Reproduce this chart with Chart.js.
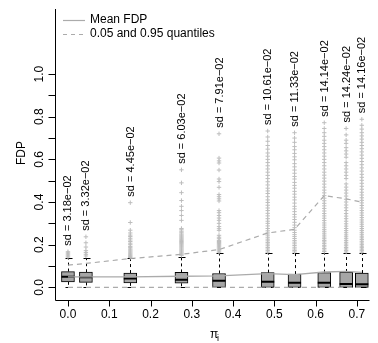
<!DOCTYPE html>
<html>
<head>
<meta charset="utf-8">
<script src="https://cdn.jsdelivr.net/npm/chart.js@4.4.0/dist/chart.umd.min.js"></script>
<style>
  html, body { margin: 0; padding: 0; background: #fff; }
  canvas { display: block; }
</style>
</head>
<body>
<canvas id="fdpChart" width="378" height="343"></canvas>
<script>
// pi_i value of each box
var piVals = [0, 0.0435, 0.151, 0.275, 0.366, 0.484, 0.549, 0.621, 0.674, 0.712];

// box statistics
var boxQ1   = [0.026, 0.023, 0.021, 0.019, 0, 0, 0, 0, 0, 0];
var boxMed  = [0.050, 0.047, 0.041, 0.036, 0.031, 0.026, 0.021, 0.022, 0.016, 0.014];
var boxQ3   = [0.074, 0.071, 0.067, 0.070, 0.065, 0.069, 0.062, 0.069, 0.072, 0.067];
var whiskLo = [0, 0, 0, 0, 0, 0, 0, 0, 0, 0];
var whiskHi = [0.136, 0.137, 0.137, 0.144, 0.160, 0.159, 0.160, 0.163, 0.160, 0.160];

// mean FDP and the 0.05 / 0.95 quantiles
var meanFdp = [0.049, 0.049, 0.049, 0.052, 0.054, 0.064, 0.060, 0.072, 0.075, 0.070];
var q05 = [0, 0, 0, 0, 0, 0, 0, 0, 0, 0];
var q95 = [0.104, 0.112, 0.135, 0.155, 0.177, 0.255, 0.272, 0.430, 0.415, 0.400];

var sdLabels = ['sd = 3.18e\u221202', 'sd = 3.32e\u221202', 'sd = 4.45e\u221202', 'sd = 6.03e\u221202',
  'sd = 7.91e\u221202', 'sd = 10.61e\u221202', 'sd = 11.33e\u221202', 'sd = 14.14e\u221202',
  'sd = 14.24e\u221202', 'sd = 14.16e\u221202'];

// outliers above the upper whisker, one list per box
var out1 = [0.142, 0.147, 0.152, 0.157, 0.162, 0.167];
var out2 = [0.147, 0.155, 0.163, 0.172, 0.189, 0.209, 0.237];
var out3 = [0.14, 0.145, 0.15, 0.155, 0.16, 0.165, 0.17, 0.175, 0.18, 0.186, 0.192, 0.2, 0.207,
  0.215, 0.222, 0.23, 0.238, 0.245, 0.255, 0.268, 0.304, 0.397];
var out4 = [0.15, 0.155, 0.16, 0.165, 0.17, 0.175, 0.18, 0.185, 0.19, 0.195, 0.2, 0.205, 0.21,
  0.215, 0.22, 0.225, 0.23, 0.235, 0.24, 0.245, 0.25, 0.256, 0.263, 0.27, 0.276, 0.314, 0.337,
  0.36, 0.38, 0.407, 0.444, 0.49, 0.551];
var out5 = [0.165, 0.17, 0.175, 0.18, 0.185, 0.19, 0.195, 0.2, 0.205, 0.21, 0.215, 0.22, 0.228,
  0.235, 0.244, 0.267, 0.275, 0.285, 0.3, 0.314, 0.325, 0.337, 0.35, 0.36, 0.405, 0.415, 0.425,
  0.435, 0.469, 0.496, 0.508, 0.55, 0.583, 0.593, 0.606, 0.72];
var out6 = [0.165, 0.172, 0.18, 0.187, 0.195, 0.203, 0.21, 0.218, 0.226, 0.235, 0.245, 0.255,
  0.265, 0.276, 0.288, 0.3, 0.31, 0.322, 0.335, 0.347, 0.36, 0.372, 0.385, 0.398, 0.41, 0.425,
  0.44, 0.452, 0.465, 0.48, 0.495, 0.51, 0.525, 0.54, 0.555, 0.57, 0.585, 0.6, 0.615, 0.63,
  0.648, 0.665, 0.685, 0.705, 0.733];
var out7 = [0.166, 0.173, 0.18, 0.188, 0.196, 0.204, 0.212, 0.22, 0.229, 0.238, 0.247, 0.257,
  0.268, 0.28, 0.292, 0.305, 0.318, 0.33, 0.342, 0.355, 0.368, 0.38, 0.395, 0.41, 0.423, 0.437,
  0.45, 0.465, 0.478, 0.492, 0.508, 0.52, 0.535, 0.55, 0.565, 0.58, 0.598, 0.612, 0.628, 0.645,
  0.66, 0.68, 0.7, 0.725];
var out8 = [0.168, 0.175, 0.182, 0.19, 0.197, 0.205, 0.213, 0.22, 0.228, 0.236, 0.245, 0.254,
  0.263, 0.272, 0.282, 0.292, 0.302, 0.313, 0.324, 0.335, 0.346, 0.358, 0.37, 0.382, 0.394,
  0.406, 0.418, 0.43, 0.443, 0.456, 0.47, 0.484, 0.498, 0.512, 0.526, 0.54, 0.555, 0.57, 0.585,
  0.6, 0.615, 0.63, 0.645, 0.66, 0.675, 0.69, 0.708, 0.725, 0.745, 0.772];
var out9 = [0.166, 0.173, 0.18, 0.187, 0.195, 0.203, 0.211, 0.219, 0.228, 0.237, 0.246, 0.256,
  0.266, 0.276, 0.287, 0.298, 0.31, 0.322, 0.334, 0.346, 0.36, 0.373, 0.386, 0.4, 0.413, 0.428,
  0.442, 0.456, 0.47, 0.485, 0.51, 0.525, 0.54, 0.555, 0.57, 0.585, 0.61, 0.625, 0.64, 0.655,
  0.675, 0.69, 0.715, 0.745];
var out10 = [0.165, 0.172, 0.179, 0.186, 0.193, 0.2, 0.208, 0.216, 0.224, 0.232, 0.24, 0.249,
  0.258, 0.267, 0.276, 0.286, 0.296, 0.306, 0.316, 0.327, 0.338, 0.349, 0.36, 0.372, 0.384,
  0.396, 0.408, 0.42, 0.433, 0.446, 0.46, 0.474, 0.488, 0.502, 0.516, 0.53, 0.545, 0.56, 0.575,
  0.59, 0.605, 0.62, 0.635, 0.65, 0.665, 0.68, 0.695, 0.71, 0.725, 0.742, 0.76, 0.788];
var outliers = [out1, out2, out3, out4, out5, out6, out7, out8, out9, out10];

// axis ticks
var xTicks = [0, 0.1, 0.2, 0.3, 0.4, 0.5, 0.6, 0.7];
var xTickLabels = ['0.0', '0.1', '0.2', '0.3', '0.4', '0.5', '0.6', '0.7'];
var yTicks = [0, 0.1, 0.2, 0.3, 0.4, 0.5, 0.6, 0.7, 0.8, 0.9, 1.0];
var yTickLabels = ['0.0', '', '0.2', '', '0.4', '', '0.6', '', '0.8', '', '1.0'];

var FONT = '"Liberation Sans", Arial, Helvetica, sans-serif';
var LINE_GREY = '#ababab';

function pts(ys) {
  return piVals.map(function (x, i) { return { x: x, y: ys[i] }; });
}

var outPts = [];
outliers.forEach(function (list, i) {
  list.forEach(function (v) { outPts.push({ x: piVals[i], y: v }); });
});

// whiskers, staples, axes, legend and sd labels
var boxExtras = {
  id: 'boxExtras',
  beforeDatasetsDraw: function (chart) {
    var ctx = chart.ctx, xs = chart.scales.x, ys = chart.scales.y;
    ctx.save();
    ctx.strokeStyle = '#000';
    ctx.lineWidth = 1;
    for (var i = 0; i < piVals.length; i++) {
      var px = Math.round(xs.getPixelForValue(piVals[i])) + 0.5;
      ctx.setLineDash([3, 3]);
      ctx.beginPath();
      ctx.moveTo(px, ys.getPixelForValue(boxQ3[i]));
      ctx.lineTo(px, ys.getPixelForValue(whiskHi[i]));
      if (boxQ1[i] > whiskLo[i]) {
        ctx.moveTo(px, ys.getPixelForValue(boxQ1[i]));
        ctx.lineTo(px, ys.getPixelForValue(whiskLo[i]));
      }
      ctx.stroke();
      ctx.setLineDash([]);
      ctx.beginPath();
      [whiskHi[i], whiskLo[i]].forEach(function (v) {
        var py = Math.round(ys.getPixelForValue(v)) + 0.5;
        ctx.moveTo(px - 3, py);
        ctx.lineTo(px + 4, py);
      });
      ctx.stroke();
    }
    ctx.restore();
  },
  afterDraw: function (chart) {
    var ctx = chart.ctx, xs = chart.scales.x, ys = chart.scales.y, area = chart.chartArea;
    var left = Math.round(area.left) + 0.5, bottom = Math.round(area.bottom) + 0.5;
    ctx.save();
    ctx.strokeStyle = '#000';
    ctx.lineWidth = 1;
    ctx.beginPath();
    ctx.moveTo(left, Math.round(area.top));
    ctx.lineTo(left, bottom);
    ctx.lineTo(area.right, bottom);
    ctx.stroke();

    ctx.fillStyle = '#000';
    ctx.font = '12px ' + FONT;

    // y axis
    ctx.beginPath();
    yTicks.forEach(function (v) {
      var py = Math.round(ys.getPixelForValue(v)) + 0.5;
      ctx.moveTo(left - 7, py);
      ctx.lineTo(left, py);
    });
    ctx.stroke();
    ctx.textAlign = 'center';
    ctx.textBaseline = 'middle';
    yTicks.forEach(function (v, i) {
      if (!yTickLabels[i]) return;
      ctx.save();
      ctx.translate(40, ys.getPixelForValue(v));
      ctx.rotate(-Math.PI / 2);
      ctx.fillText(yTickLabels[i], 0, 0);
      ctx.restore();
    });

    // x axis
    ctx.beginPath();
    xTicks.forEach(function (v) {
      var px = Math.round(xs.getPixelForValue(v)) + 0.5;
      ctx.moveTo(px, bottom);
      ctx.lineTo(px, bottom + 6);
    });
    ctx.stroke();
    xTicks.forEach(function (v, i) {
      ctx.fillText(xTickLabels[i], xs.getPixelForValue(v), 315);
    });

    // axis titles
    ctx.save();
    ctx.translate(22, 153);
    ctx.rotate(-Math.PI / 2);
    ctx.fillText('FDP', 0, 0);
    ctx.restore();
    ctx.textAlign = 'left';
    ctx.fillText('\u03c0', 210, 335);
    ctx.font = '9px ' + FONT;
    ctx.fillText('i', 217, 339);

    // sd labels above each column
    ctx.font = '11px ' + FONT;
    ctx.textAlign = 'left';
    ctx.textBaseline = 'middle';
    for (var i = 0; i < piVals.length; i++) {
      var top = Math.max.apply(null, outliers[i]);
      ctx.save();
      ctx.translate(xs.getPixelForValue(piVals[i]) + 0.5, ys.getPixelForValue(top) - 6);
      ctx.rotate(-Math.PI / 2);
      ctx.fillText(sdLabels[i], 0, 0);
      ctx.restore();
    }

    // legend
    ctx.strokeStyle = LINE_GREY;
    ctx.lineWidth = 1.2;
    ctx.beginPath();
    ctx.moveTo(63, 20.5);
    ctx.lineTo(85, 20.5);
    ctx.stroke();
    ctx.setLineDash([4, 4]);
    ctx.beginPath();
    ctx.moveTo(63, 34.5);
    ctx.lineTo(86, 34.5);
    ctx.stroke();
    ctx.setLineDash([]);
    ctx.font = '12px ' + FONT;
    ctx.fillText('Mean FDP', 90, 20);
    ctx.fillText('0.05 and 0.95 quantiles', 90, 34);
    ctx.restore();
  }
};

var ctx = document.getElementById('fdpChart').getContext('2d');
var fdpChart = new Chart(ctx, {
  type: 'scatter',
  data: {
    datasets: [{
      type: 'line',
      label: 'Mean FDP',
      data: pts(meanFdp),
      borderColor: LINE_GREY,
      borderWidth: 1.3,
      pointRadius: 0,
      order: 0
    }, {
      type: 'line',
      label: '0.95 quantile',
      data: pts(q95),
      borderColor: LINE_GREY,
      borderWidth: 1.2,
      borderDash: [5, 4],
      pointRadius: 0,
      order: 1
    }, {
      type: 'line',
      label: '0.05 quantile',
      data: pts(q05),
      borderColor: LINE_GREY,
      borderWidth: 1.2,
      borderDash: [5, 4],
      pointRadius: 0,
      order: 2
    }, {
      type: 'scatter',
      label: 'median',
      data: pts(boxMed),
      pointStyle: 'line',
      pointRadius: 6.5,
      borderColor: '#000',
      borderWidth: 2,
      order: 3
    }, {
      type: 'bar',
      label: 'box',
      data: piVals.map(function (x, i) { return { x: x, y: [boxQ1[i], boxQ3[i]] }; }),
      backgroundColor: '#a6a6a6',
      borderColor: '#000',
      borderWidth: 1,
      borderSkipped: false,
      barThickness: 13,
      grouped: false,
      order: 4
    }, {
      type: 'scatter',
      label: 'outliers',
      data: outPts,
      pointStyle: 'cross',
      pointRadius: 2.2,
      borderColor: '#bdbdbd',
      borderWidth: 1,
      order: 5
    }]
  },
  options: {
    responsive: false,
    animation: false,
    devicePixelRatio: 1,
    events: [],
    layout: { padding: { left: 55, right: 0, top: 7, bottom: 43.5 } },
    scales: {
      x: { type: 'linear', min: -0.0314, max: 0.7306, offset: false, display: false },
      y: { type: 'linear', min: -0.057, max: 1.3075, display: false }
    },
    plugins: {
      legend: { display: false },
      tooltip: { enabled: false }
    }
  },
  plugins: [boxExtras]
});
</script>
</body>
</html>
